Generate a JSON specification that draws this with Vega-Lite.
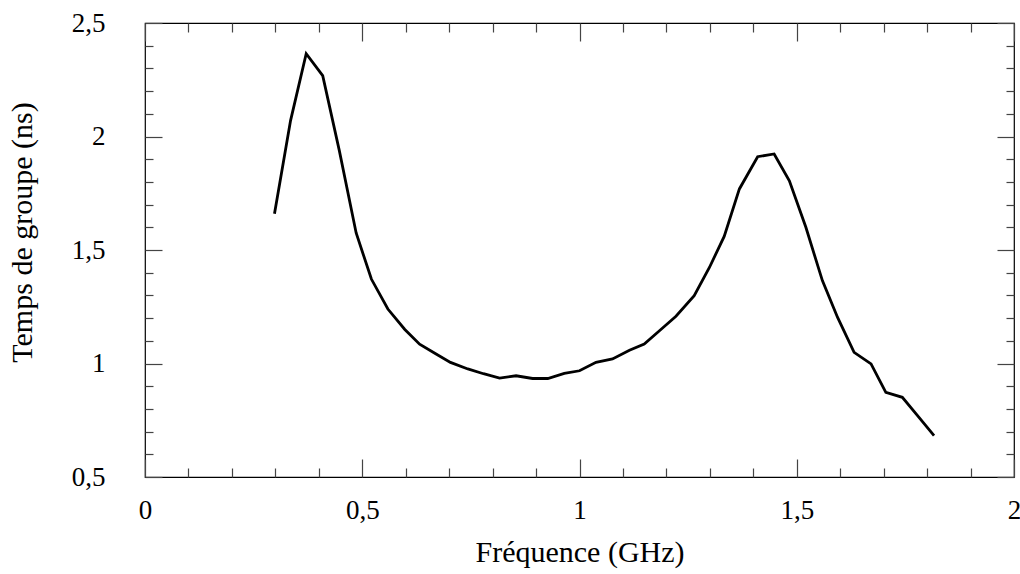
{
  "$schema": "https://vega.github.io/schema/vega-lite/v6.json",
  "autosize": "none",
  "width": 869,
  "height": 454,
  "padding": {"left": 145, "top": 23, "right": 6, "bottom": 97},
  "background": "white",
  "config": {
    "font": "Liberation Serif",
    "view": {"stroke": "black", "strokeWidth": 1.2},
    "axis": {"grid": false, "domain": false, "labelFont": "Liberation Serif", "titleFont": "Liberation Serif", "labelColor": "black", "titleColor": "black", "titleFontWeight": "normal", "tickColor": "#444444", "tickWidth": 1.2}
  },
  "data": {
    "values": [
      {"f": 0.298, "t": 1.66},
      {"f": 0.335, "t": 2.07},
      {"f": 0.371, "t": 2.365},
      {"f": 0.409, "t": 2.268},
      {"f": 0.447, "t": 1.94},
      {"f": 0.486, "t": 1.575},
      {"f": 0.521, "t": 1.372},
      {"f": 0.559, "t": 1.24},
      {"f": 0.598, "t": 1.15},
      {"f": 0.632, "t": 1.085},
      {"f": 0.667, "t": 1.045},
      {"f": 0.703, "t": 1.005},
      {"f": 0.743, "t": 0.976},
      {"f": 0.779, "t": 0.955},
      {"f": 0.816, "t": 0.936},
      {"f": 0.854, "t": 0.946},
      {"f": 0.892, "t": 0.934},
      {"f": 0.927, "t": 0.934},
      {"f": 0.965, "t": 0.956},
      {"f": 1.0, "t": 0.968},
      {"f": 1.038, "t": 1.005},
      {"f": 1.076, "t": 1.02},
      {"f": 1.115, "t": 1.058},
      {"f": 1.149, "t": 1.086},
      {"f": 1.184, "t": 1.144},
      {"f": 1.222, "t": 1.208},
      {"f": 1.264, "t": 1.299},
      {"f": 1.299, "t": 1.423},
      {"f": 1.333, "t": 1.56},
      {"f": 1.368, "t": 1.769},
      {"f": 1.41, "t": 1.911},
      {"f": 1.448, "t": 1.923},
      {"f": 1.483, "t": 1.805},
      {"f": 1.521, "t": 1.6},
      {"f": 1.559, "t": 1.365},
      {"f": 1.594, "t": 1.203},
      {"f": 1.632, "t": 1.049},
      {"f": 1.671, "t": 0.998},
      {"f": 1.705, "t": 0.873},
      {"f": 1.743, "t": 0.851},
      {"f": 1.778, "t": 0.77},
      {"f": 1.816, "t": 0.682}
    ]
  },
  "resolve": {"axis": {"x": "independent", "y": "independent"}},
  "layer": [
    {
      "mark": {"type": "line", "color": "black", "strokeWidth": 2.8, "strokeJoin": "miter"},
      "encoding": {
        "x": {"field": "f", "type": "quantitative", "scale": {"domain": [0, 2], "nice": false, "zero": false},
          "axis": {"orient": "bottom", "values": [0, 0.5, 1, 1.5, 2], "ticks": false, "labelPadding": 41, "labelBaseline": "alphabetic", "labelFontSize": 27, "labelFlush": false, "labelExpr": "replace(format(datum.value, '~g'), '.', ',')", "title": "Fréquence (GHz)", "titleFontSize": 30, "titleBaseline": "alphabetic", "titleY": 84, "titlePadding": 0}},
        "y": {"field": "t", "type": "quantitative", "scale": {"domain": [0.5, 2.5], "nice": false, "zero": false},
          "axis": {"orient": "left", "values": [0.5, 1, 1.5, 2, 2.5], "ticks": false, "labelPadding": 40, "labelFontSize": 27, "labelFlush": false, "labelExpr": "replace(format(datum.value, '~g'), '.', ',')", "title": "Temps de groupe (ns)", "titleFontSize": 30, "titleAngle": -90, "titleBaseline": "alphabetic", "titleAlign": "center", "titleX": -114, "titleY": 209}}
      }
    },
    {
      "mark": {"type": "point", "opacity": 0},
      "encoding": {
        "x": {"field": "f", "type": "quantitative", "axis": {"orient": "bottom", "values": [0, 0.5, 1, 1.5, 2], "labels": false, "title": null, "tickSize": -18}},
        "y": {"field": "t", "type": "quantitative", "axis": {"orient": "left", "values": [0.5, 1, 1.5, 2, 2.5], "labels": false, "title": null, "tickSize": -17}}
      }
    },
    {
      "mark": {"type": "point", "opacity": 0},
      "encoding": {
        "x": {"field": "f", "type": "quantitative", "axis": {"orient": "top", "values": [0, 0.5, 1, 1.5, 2], "labels": false, "title": null, "tickSize": -18}},
        "y": {"field": "t", "type": "quantitative", "axis": {"orient": "right", "values": [0.5, 1, 1.5, 2, 2.5], "labels": false, "title": null, "tickSize": -17}}
      }
    },
    {
      "mark": {"type": "point", "opacity": 0},
      "encoding": {
        "x": {"field": "f", "type": "quantitative", "axis": {"orient": "bottom", "values": [0.1, 0.2, 0.3, 0.4, 0.6, 0.7, 0.8, 0.9, 1.1, 1.2, 1.3, 1.4, 1.6, 1.7, 1.8, 1.9], "labels": false, "title": null, "tickSize": -9}},
        "y": {"field": "t", "type": "quantitative", "axis": {"orient": "left", "values": [0.6, 0.7, 0.8, 0.9, 1.1, 1.2, 1.3, 1.4, 1.6, 1.7, 1.8, 1.9, 2.1, 2.2, 2.3, 2.4], "labels": false, "title": null, "tickSize": -8}}
      }
    },
    {
      "mark": {"type": "point", "opacity": 0},
      "encoding": {
        "x": {"field": "f", "type": "quantitative", "axis": {"orient": "top", "values": [0.1, 0.2, 0.3, 0.4, 0.6, 0.7, 0.8, 0.9, 1.1, 1.2, 1.3, 1.4, 1.6, 1.7, 1.8, 1.9], "labels": false, "title": null, "tickSize": -9}},
        "y": {"field": "t", "type": "quantitative", "axis": {"orient": "right", "values": [0.6, 0.7, 0.8, 0.9, 1.1, 1.2, 1.3, 1.4, 1.6, 1.7, 1.8, 1.9, 2.1, 2.2, 2.3, 2.4], "labels": false, "title": null, "tickSize": -8}}
      }
    }
  ]
}
